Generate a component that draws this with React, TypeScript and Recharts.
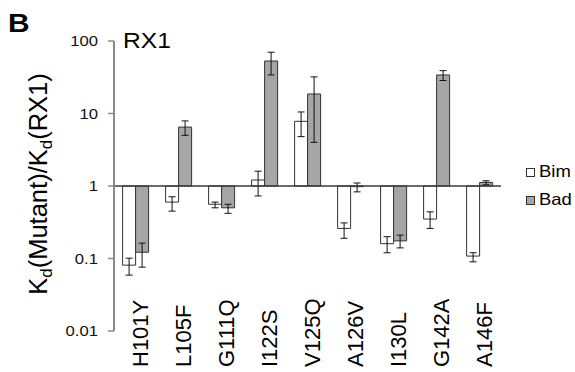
import React from 'react';
import { BarChart, Bar, XAxis, YAxis, ErrorBar, ReferenceLine } from 'recharts';

const categories = ['H101Y', 'L105F', 'G111Q', 'I122S', 'V125Q', 'A126V', 'I130L', 'G142A', 'A146F'];

const bimValues = [0.081, 0.6, 0.56, 1.21, 7.8, 0.26, 0.16, 0.35, 0.108];
const bimLow = [0.059, 0.45, 0.5, 0.73, 4.8, 0.19, 0.12, 0.26, 0.09];
const bimHigh = [0.101, 0.71, 0.6, 1.6, 10.5, 0.31, 0.2, 0.44, 0.12];

const badValues = [0.122, 6.5, 0.5, 53, 18.6, 0.98, 0.175, 34, 1.12];
const badLow = [0.076, 5.0, 0.42, 34, 4.0, 0.83, 0.14, 28.5, 1.04];
const badHigh = [0.163, 7.9, 0.56, 70, 32, 1.1, 0.21, 39, 1.18];

const yTicks = [0.01, 0.1, 1, 10, 100];
const yTickLabels = ['0.01', '0.1', '1', '10', '100'];

const seriesNames = ['Bim', 'Bad'];
const panelLetter = 'B';
const panelTitle = 'RX1';

const data = categories.map((name, i) => ({
  name,
  bim: [1, bimValues[i]],
  bad: [1, badValues[i]],
  bimErr: [bimValues[i] - bimLow[i], bimHigh[i] - bimValues[i]],
  badErr: [badValues[i] - badLow[i], badHigh[i] - badValues[i]],
}));

const FONT = '"Liberation Sans", Arial, sans-serif';
const BAD_FILL = '#a6a6a6';
const EDGE = '#333333';

const YTick = (props: any) => {
  const { x, y, payload } = props;
  const idx = yTicks.indexOf(payload.value);
  const label = idx >= 0 ? yTickLabels[idx] : String(payload.value);
  return (
    <text
      transform={`translate(${x}, ${y + 5}) scale(1.15, 1)`}
      textAnchor="end"
      fontSize={14.5}
      fontFamily={FONT}
      fill="#111"
    >
      {label}
    </text>
  );
};

const XTick = (props: any) => {
  const { x, payload } = props;
  return (
    <text
      transform={`translate(${x + 12}, 367) rotate(-90)`}
      textAnchor="start"
      fontSize={22}
      fontFamily={FONT}
      fill="#000"
    >
      {payload.value}
    </text>
  );
};

export default function App() {
  return (
    <div style={{ position: 'absolute', left: 0, top: 0, width: 575, height: 372, background: '#fff' }}>
      <BarChart
        width={575}
        height={372}
        data={data}
        margin={{ top: 41, right: 74, left: 0, bottom: 0 }}
        barCategoryGap="20%"
        barGap={0}
      >
        <XAxis
          dataKey="name"
          height={41}
          axisLine={false}
          tickLine={false}
          interval={0}
          tick={<XTick />}
        />
        <YAxis
          type="number"
          scale="log"
          domain={[0.01, 100]}
          ticks={yTicks}
          allowDataOverflow
          width={114}
          tickSize={6}
          tickMargin={10}
          axisLine={{ stroke: '#8a8a8a', strokeWidth: 2 }}
          tickLine={{ stroke: '#8a8a8a', strokeWidth: 1.5 }}
          tick={<YTick />}
        />
        <Bar dataKey="bim" fill="#ffffff" stroke={EDGE} strokeWidth={1} isAnimationActive={false}>
          <ErrorBar dataKey="bimErr" direction="y" width={3.5} stroke="#111" strokeWidth={1} />
        </Bar>
        <Bar dataKey="bad" fill={BAD_FILL} stroke={EDGE} strokeWidth={1} isAnimationActive={false}>
          <ErrorBar dataKey="badErr" direction="y" width={3.5} stroke="#111" strokeWidth={1} />
        </Bar>
        <ReferenceLine y={1} stroke="#3a3a3a" strokeWidth={1.5} />
      </BarChart>
      <svg
        width={575}
        height={372}
        style={{ position: 'absolute', left: 0, top: 0, pointerEvents: 'none' }}
      >
        <text transform="translate(8, 32) scale(1.15, 1)" fontSize={26} fontWeight="bold" fontFamily={FONT} fill="#000">
          {panelLetter}
        </text>
        <text transform="translate(123, 48) scale(1.12, 1)" fontSize={22} fontFamily={FONT} fill="#000">
          {panelTitle}
        </text>
        <text transform="translate(47, 184) rotate(-90)" textAnchor="middle" fontSize={25.5} fontFamily={FONT} fill="#000">
          <tspan>K</tspan>
          <tspan fontSize={17} dy={5}>d</tspan>
          <tspan dy={-5}>(Mutant)/K</tspan>
          <tspan fontSize={17} dy={5}>d</tspan>
          <tspan dy={-5}>(RX1)</tspan>
        </text>
        <rect x={526.5} y={168.5} width={8} height={8} fill="#fff" stroke={EDGE} strokeWidth={1} />
        <text transform="translate(539, 177) scale(1.12, 1)" fontSize={16.5} fontFamily={FONT} fill="#000">
          {seriesNames[0]}
        </text>
        <rect x={526.5} y={196.5} width={8} height={8} fill={BAD_FILL} stroke={EDGE} strokeWidth={1} />
        <text transform="translate(539, 205) scale(1.12, 1)" fontSize={16.5} fontFamily={FONT} fill="#000">
          {seriesNames[1]}
        </text>
      </svg>
    </div>
  );
}
